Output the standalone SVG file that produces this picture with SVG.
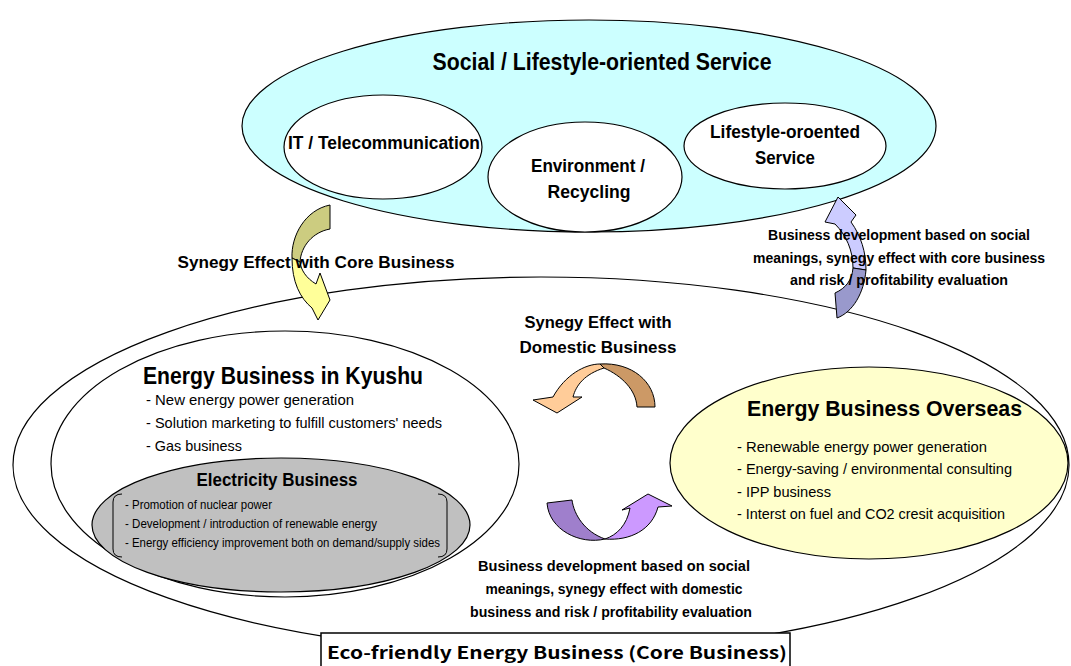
<svg xmlns="http://www.w3.org/2000/svg" width="1071" height="666" viewBox="0 0 1071 666">
<style>
.ln{stroke:#000;stroke-width:1.2}
.t{font-family:"Liberation Sans",Arial,sans-serif;fill:#000}
.b{font-weight:bold}
.m{text-anchor:middle}
.ar{stroke:#000;stroke-width:1}
</style>
<rect width="1071" height="666" fill="#fff"/>
<g id="core">
<ellipse class="ln" cx="541" cy="465" rx="528" ry="188" fill="#fff"/>
</g>
<g id="social">
<ellipse class="ln" cx="589" cy="126" rx="347" ry="106" fill="#ccffff"/>
<text class="t b m" x="602" y="70" font-size="24" textLength="339" lengthAdjust="spacingAndGlyphs">Social / Lifestyle-oriented Service</text>
</g>
<g id="it">
<ellipse class="ln" cx="383" cy="147" rx="99" ry="52" fill="#fff"/>
<text class="t b m" x="384" y="149" font-size="18" textLength="192" lengthAdjust="spacingAndGlyphs">IT / Telecommunication</text>
</g>
<g id="env">
<ellipse class="ln" cx="585" cy="177" rx="97" ry="55" fill="#fff"/>
<text class="t b m" x="588" y="172" font-size="18" textLength="114" lengthAdjust="spacingAndGlyphs">Environment /</text>
<text class="t b m" x="589" y="198" font-size="18" textLength="83" lengthAdjust="spacingAndGlyphs">Recycling</text>
</g>
<g id="life">
<ellipse class="ln" cx="785" cy="146" rx="101" ry="43" fill="#fff"/>
<text class="t b m" x="785" y="138" font-size="18" textLength="150" lengthAdjust="spacingAndGlyphs">Lifestyle-oroented</text>
<text class="t b m" x="785" y="164" font-size="18" textLength="60" lengthAdjust="spacingAndGlyphs">Service</text>
</g>
<g id="kyushu">
<ellipse class="ln" cx="285" cy="464" rx="234" ry="133" fill="#fff"/>
<text class="t b" x="143" y="384" font-size="24" textLength="280" lengthAdjust="spacingAndGlyphs">Energy Business in Kyushu</text>
<text class="t" x="146" y="405" font-size="15" textLength="208" lengthAdjust="spacingAndGlyphs">- New energy  power generation</text>
<text class="t" x="146" y="428" font-size="15" textLength="296" lengthAdjust="spacingAndGlyphs">- Solution marketing to fulfill customers' needs</text>
<text class="t" x="146" y="451" font-size="15" textLength="96" lengthAdjust="spacingAndGlyphs">- Gas business</text>
</g>
<g id="electricity">
<ellipse class="ln" cx="281" cy="525" rx="189" ry="67" fill="#c0c0c0"/>
<text class="t b m" x="277" y="486" font-size="19" textLength="161" lengthAdjust="spacingAndGlyphs">Electricity Business</text>
<path d="M122,494 Q113,494 113,502 L113,549 Q113,557 122,557 M438,494 Q447,494 447,502 L447,549 Q447,557 438,557" fill="none" stroke="#000" stroke-width="1"/>
<text class="t" x="125" y="509" font-size="13" textLength="147" lengthAdjust="spacingAndGlyphs">- Promotion of nuclear power</text>
<text class="t" x="125" y="528" font-size="13" textLength="252" lengthAdjust="spacingAndGlyphs">- Development / introduction of renewable energy</text>
<text class="t" x="125" y="547" font-size="13" textLength="315" lengthAdjust="spacingAndGlyphs">- Energy efficiency improvement both on demand/supply sides</text>
</g>
<g id="overseas">
<ellipse class="ln" cx="869" cy="463" rx="199" ry="96" fill="#ffffcc"/>
<text class="t b" x="747" y="416" font-size="22" textLength="275" lengthAdjust="spacingAndGlyphs">Energy Business Overseas</text>
<text class="t" x="737" y="452" font-size="15" textLength="250" lengthAdjust="spacingAndGlyphs">- Renewable energy power generation</text>
<text class="t" x="737" y="474" font-size="15" textLength="275" lengthAdjust="spacingAndGlyphs">- Energy-saving / environmental consulting</text>
<text class="t" x="737" y="497" font-size="15" textLength="94" lengthAdjust="spacingAndGlyphs">- IPP business</text>
<text class="t" x="737" y="519" font-size="15" textLength="268" lengthAdjust="spacingAndGlyphs">- Interst on fuel and CO2 cresit acquisition</text>
</g>
<g id="connectors">
<path class="ar" fill="#cccc80" d="M330,205 L330,229 C313,232 301,246 300,262 L292,258 C291,236 305,210 330,205 Z"/>
<path class="ar" fill="#ffff99" d="M292,258 C292,282 300,298 312,308 L318,320 L330,300 L320,273 L316,284 C306,278 301,270 300,262 Z"/>
<path class="ar" fill="#ccccff" d="M838,197 L856,215 L851,222 C861,236 866,252 866,270 L853,268 C853,250 846,235 835,224 L825,222 Z"/>
<path class="ar" fill="#9999cc" d="M853,268 L866,270 C864,293 853,312 837,318 L835,293 C846,288 852,280 853,268 Z"/>
<path class="ar" fill="#cc9966" d="M604,368 C622,376 636,390 637,407 L655,407 C655,382 632,362 600,364 Z"/>
<path class="ar" fill="#ffcc99" d="M600,364 C585,364 565,375 553,397 L533,400 L557,413 L582,397 L573,397 C576,385 585,374 604,368 Z"/>
<path class="ar" fill="#9f7fcc" d="M547,503 L572,500 C574,515 585,532 605,539 C580,545 549,530 547,503 Z"/>
<path class="ar" fill="#cc99ff" d="M605,539 C630,541 652,530 658,507 L672,506 L648,494 L622,510 L630,508 C627,525 617,535 605,539 Z"/>
<text class="t b m" x="316" y="268" font-size="17" textLength="277" lengthAdjust="spacingAndGlyphs">Synegy Effect with Core Business</text>
<text class="t b m" x="899" y="240" font-size="14" textLength="262" lengthAdjust="spacingAndGlyphs">Business development based on social</text>
<text class="t b m" x="899" y="263" font-size="14" textLength="292" lengthAdjust="spacingAndGlyphs">meanings, synegy effect with core business</text>
<text class="t b m" x="899" y="285" font-size="14" textLength="218" lengthAdjust="spacingAndGlyphs">and risk / profitability evaluation</text>
<text class="t b m" x="598" y="328" font-size="17" textLength="147" lengthAdjust="spacingAndGlyphs">Synegy Effect with</text>
<text class="t b m" x="598" y="353" font-size="17" textLength="157" lengthAdjust="spacingAndGlyphs">Domestic Business</text>
<text class="t b m" x="614" y="571" font-size="14" textLength="272" lengthAdjust="spacingAndGlyphs">Business development based on social</text>
<text class="t b m" x="614" y="594" font-size="14" textLength="257" lengthAdjust="spacingAndGlyphs">meanings, synegy effect with domestic</text>
<text class="t b m" x="611" y="617" font-size="14" textLength="282" lengthAdjust="spacingAndGlyphs">business and risk / profitability evaluation</text>
</g>
<g id="corelabel">
<rect x="321" y="633" width="469" height="40" fill="#fff" stroke="#000" stroke-width="1.5"/>
<text x="327" y="659" font-family="'Noto Sans CJK JP','DejaVu Sans',sans-serif" font-weight="bold" font-size="17" textLength="460" lengthAdjust="spacingAndGlyphs">Eco-friendly Energy Business (Core Business)</text>
</g>
</svg>
